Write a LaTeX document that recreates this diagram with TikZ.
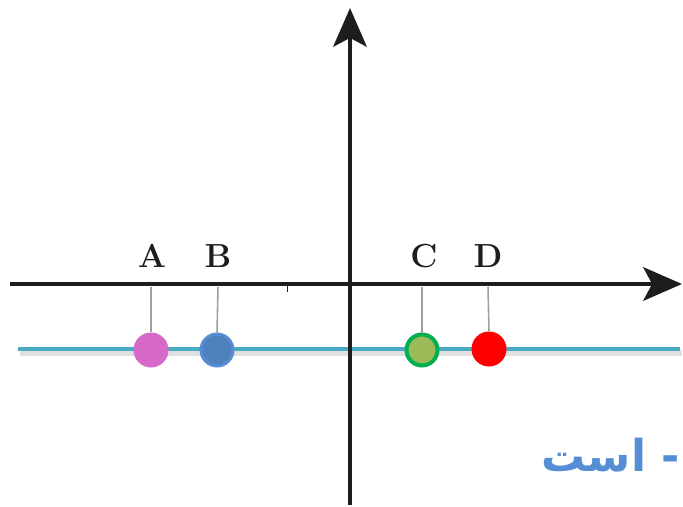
\documentclass[tikz,border=0pt]{standalone}
\usepackage{fontspec}
\newfontfamily\arabicfont[Script=Arabic]{DejaVu Sans}
\TeXXeTstate=1
\usepackage{xcolor}
\definecolor{axisblack}{RGB}{30, 28, 28}
\definecolor{linecyan}{RGB}{75, 170, 195}
\definecolor{ptpink}{RGB}{215, 105, 200}
\definecolor{ptblue}{RGB}{79, 129, 189}
\definecolor{ptblueedge}{RGB}{85, 142, 213}
\definecolor{ptolive}{RGB}{155, 187, 89}
\definecolor{ptgreen}{RGB}{0, 176, 80}
\definecolor{ptred}{RGB}{255, 0, 0}
\definecolor{txtblue}{RGB}{85, 142, 213}
\usetikzlibrary{arrows.meta, positioning, calc}

\begin{document}
\begin{tikzpicture}[x=0.02cm, y=-0.02cm,
        axis/.style={draw=axisblack, line width=4.5pt*0.567, -{Stealth[length=22pt, width=19pt, inset=5pt]}},
        dot/.style={circle, inner sep=0pt, minimum size=35*0.02cm},
        stem/.style={draw=gray!75, line width=0.9pt},
        lbl/.style={font=\fontsize{19}{19}\selectfont\bfseries, text=axisblack}]
        \useasboundingbox (0,0) rectangle (683,507);

        \coordinate (xl) at (10,284);
        \coordinate (xr) at (682,284);
        \coordinate (yb) at (350,505);
        \coordinate (yt) at (350,8);
        \coordinate (cl) at (18,349);
        \coordinate (cr) at (680,349);

        % shadow and cyan line
        \draw [gray!40, line width=3pt, opacity=0.6] ($(cl)+(2,4)$) -- ($(cr)+(2,4)$);
        \draw [linecyan, line width=2.4pt] (cl) -- (cr);

        \path [axis] (xl) -- (xr);
        \path [axis] (yb) -- (yt);
        \draw [axisblack, line width=0.5pt] (287,284) -- (287,292);

        \node [dot, fill=ptpink] (A) at (151,350) {};
        \node [dot, fill=ptblue, draw=ptblueedge, line width=3pt*0.567, minimum size=32*0.02cm] (B) at (217,350) {};
        \node [dot, fill=ptolive, draw=ptgreen, line width=4pt*0.567, minimum size=31*0.02cm] (C) at (422,350) {};
        \node [dot, fill=ptred] (D) at (489,349) {};

        \node [lbl] (lA) at (152,256) {A};
        \node [lbl] (lB) at (218,256) {B};
        \node [lbl] (lC) at (424,256) {C};
        \node [lbl] (lD) at (488,256) {D};

        \foreach \p/\x in {A/151, B/218, C/422, D/488}
            \path [stem] (\x,287) -- (\p.north);

        \node [anchor=east, inner sep=0pt, text=txtblue, font=\fontsize{25}{25}\selectfont\bfseries\arabicfont] (note) at (680,455) {\beginR - است\endR};
    \end{tikzpicture}
\end{document}
